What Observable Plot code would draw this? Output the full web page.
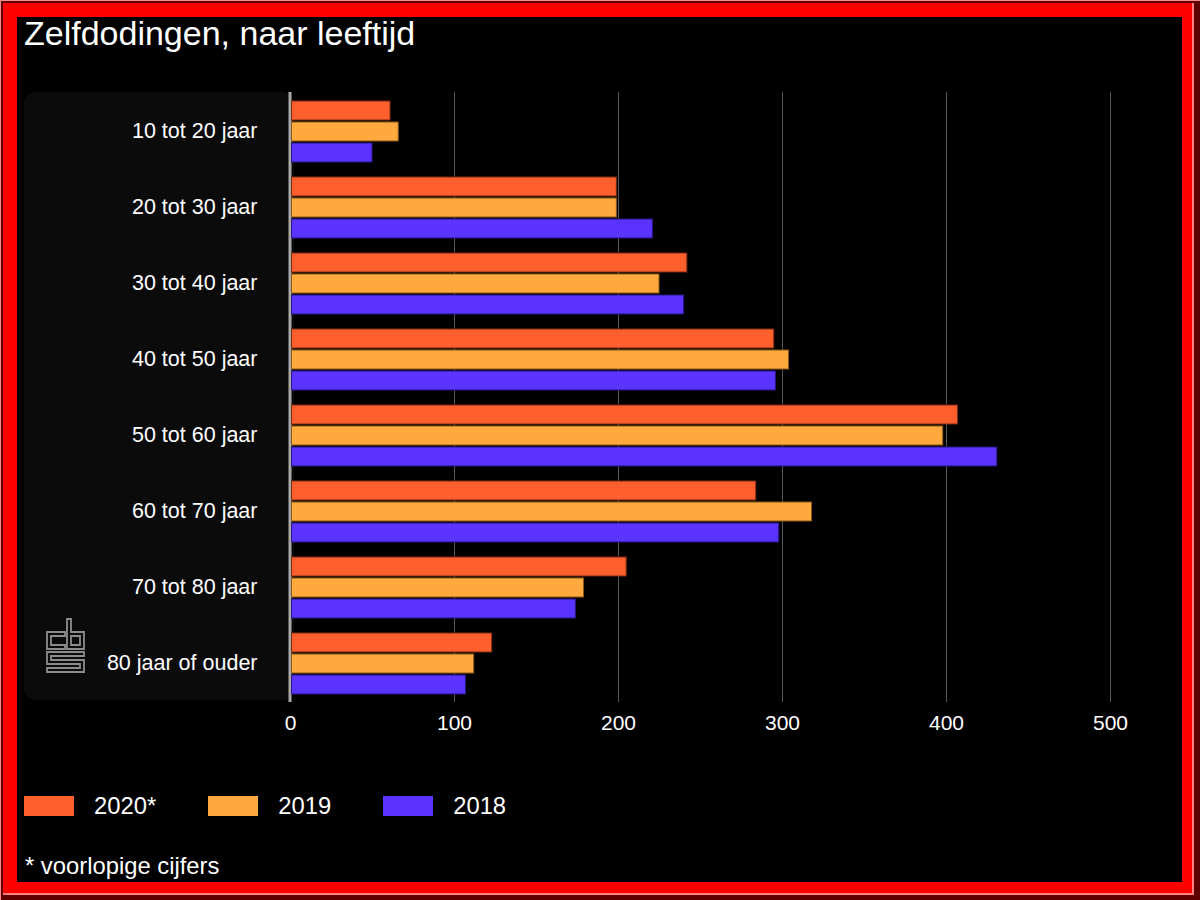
<!DOCTYPE html>
<html><head><meta charset="utf-8">
<script src="https://cdn.jsdelivr.net/npm/d3@7"></script>
<script src="https://cdn.jsdelivr.net/npm/@observablehq/plot@0.6"></script>
<style>
html,body{margin:0;padding:0;width:1200px;height:900px;overflow:hidden;background:#5e0000;font-family:"Liberation Sans",Arial,sans-serif;}
.abs{position:absolute;}
#edge{left:0;top:0;width:1200px;height:900px;background:#5e0000;box-sizing:border-box;border-top:1px solid #ff8a8a;border-left:1px solid #ff8a8a;}
#pink{left:3px;top:3px;width:1191px;height:892px;background:#ff8080;}
#red{left:3px;top:3px;width:1189px;height:890px;background:#ff0000;}
#inner{left:17px;top:17px;width:1165px;height:865px;background:#000;}
#panel{left:24px;top:92px;width:270px;height:608px;background:#0b0b0b;border-radius:12px;}
#title{left:24px;top:16.2px;font-size:34px;line-height:1;color:#fff;white-space:nowrap;}
.plotwrap{left:17px;top:80px;width:1165px;height:672px;}
#front g[aria-label^="fy-axis"]{font-size:21.5px;}
#legend{left:24px;top:793.7px;display:flex;align-items:center;color:#fff;font-size:23.8px;line-height:1;}
.sw{width:50px;height:20px;margin-right:20px;box-sizing:border-box;}
.lt{margin-right:52px;white-space:nowrap;}
#note{left:25px;top:853.7px;font-size:23.8px;line-height:1;color:#fff;white-space:nowrap;}
#logo{left:44px;top:616px;}
</style></head><body>
<div id="edge" class="abs"></div>
<div id="pink" class="abs"></div>
<div id="red" class="abs"></div>
<div id="inner" class="abs"></div>
<div id="panel" class="abs"></div>
<div id="title" class="abs">Zelfdodingen, naar leeftijd</div>
<svg id="logo" class="abs" width="46" height="62" viewBox="44 616 46 62">
  <g fill="none" stroke="#8c8c8c" stroke-width="1.8" stroke-linejoin="miter">
    <path d="M65,632 H47 V649 H65 V645 H51 V636 H65 Z"/>
    <path d="M67,619 H71 V632 H84 V649 H67 Z"/>
    <path d="M71,636 H80 V645 H71 Z"/>
    <path d="M47,652 H84 V656 H51 V660 H84 V672 H47 V668 H80 V664 H47 Z"/>
  </g>
</svg>
<div id="back" class="abs plotwrap"></div>
<div id="front" class="abs plotwrap"></div>
<div id="legend" class="abs"></div>
<div id="note" class="abs">* voorlopige cijfers</div>
<script>
// ---- data ----
const ages = ["10 tot 20 jaar","20 tot 30 jaar","30 tot 40 jaar","40 tot 50 jaar","50 tot 60 jaar","60 tot 70 jaar","70 tot 80 jaar","80 jaar of ouder"];
const years = ["2020*","2019","2018"];
const v2020 = [61, 199, 242, 295, 407, 284, 205, 123];
const v2019 = [66, 199, 225, 304, 398, 318, 179, 112];
const v2018 = [50, 221, 240, 296, 431, 298, 174, 107];
const xTicks = [0, 100, 200, 300, 400, 500];
const colors = ["#ff5f2d", "#ffa93f", "#5b33ff"];
const strokes = ["#7a2a12", "#8a5a18", "#2a1680"];

const series = [v2020, v2019, v2018];
const rows = ages.flatMap((a, i) => years.map((yr, j) => ({age: a, year: yr, value: series[j][i]})));

const common = {
  width: 1165, height: 672,
  marginLeft: 273, marginRight: 72, marginTop: 12, marginBottom: 50,
  style: {background: "transparent", color: "#fff", fontFamily: "Liberation Sans, Arial, sans-serif", fontSize: "21px"}
};

const back = Plot.plot({
  ...common,
  x: {domain: [0, 500], axis: null},
  marks: [
    Plot.ruleX(xTicks.filter(d => d > 0), {stroke: "#575757", strokeWidth: 1}),
    Plot.ruleX([0], {stroke: "#a9a9a9", strokeWidth: 3, dx: -0.5})
  ]
});
document.getElementById("back").appendChild(back);

const front = Plot.plot({
  ...common,
  x: {domain: [0, 500], ticks: xTicks, tickSize: 0, tickPadding: 21, label: null, tickFormat: d => String(d)},
  y: {domain: years, axis: null, paddingInner: 0.116, paddingOuter: 0},
  fy: {domain: ages, axis: "left", label: null, tickSize: 0, tickPadding: 33, paddingInner: 0.184, paddingOuter: 0.105},
  marks: years.map((yr, j) => Plot.barX(rows.filter(r => r.year === yr), {
    x: "value", y: "year", fy: "age",
    fill: colors[j], stroke: strokes[j], strokeWidth: 1, insetLeft: 1.5
  }))
});
document.getElementById("front").appendChild(front);

// legend
const leg = document.getElementById("legend");
years.forEach((yr, j) => {
  const sw = document.createElement("div");
  sw.className = "sw"; sw.style.background = colors[j];
  const t = document.createElement("div");
  t.className = "lt"; t.textContent = yr;
  leg.appendChild(sw); leg.appendChild(t);
});
</script>
</body></html>
